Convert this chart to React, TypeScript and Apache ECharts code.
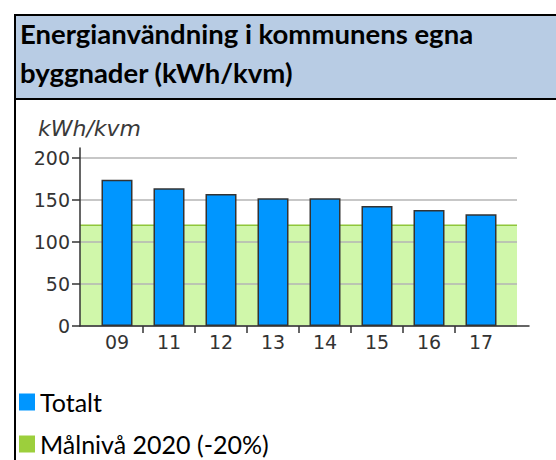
import React, { useEffect, useRef } from "react";
import * as echarts from "echarts";

const categories = ["09", "11", "12", "13", "14", "15", "16", "17"];
const totalt = [174, 164, 157, 152, 152, 143, 138, 133];
const malniva = 120;
const seriesNames = ["Totalt", "Målnivå 2020 (-20%)"];
const titleText = "Energianvändning i kommunens egna\nbyggnader (kWh/kvm)";
const unitText = "kWh/kvm";

export default function App() {
  const ref = useRef<HTMLDivElement>(null);
  useEffect(() => {
    document.body.style.margin = "0";
    const chart = echarts.init(ref.current!, null, { renderer: "svg" });
    const tickFont = { fontFamily: "DejaVu Sans", fontSize: 19, color: "#333" };
    chart.setOption({
      animation: false,
      title: [
        {
          text: titleText,
          left: 20,
          top: 14,
          padding: 0,
          textStyle: { fontFamily: "Lato", fontWeight: "bold", fontSize: 27.5, lineHeight: 39, color: "#000" },
        },
        {
          text: unitText,
          left: 38,
          top: 117,
          padding: 0,
          textStyle: { fontFamily: "DejaVu Sans", fontStyle: "italic", fontWeight: "normal", fontSize: 22, color: "#3a3a3a" },
        },
      ],
      graphic: [
        { type: "rect", z: -10, shape: { x: 15, y: 15, width: 560, height: 84 }, style: { fill: "#b8cce4" } },
        { type: "line", z: -9, shape: { x1: 14, y1: 15, x2: 556, y2: 15 }, style: { stroke: "#000", lineWidth: 2 } },
        { type: "line", z: -9, shape: { x1: 14, y1: 99, x2: 556, y2: 99 }, style: { stroke: "#000", lineWidth: 2 } },
        { type: "line", z: -9, shape: { x1: 15, y1: 14, x2: 15, y2: 460 }, style: { stroke: "#000", lineWidth: 2 } },
      ],
      legend: {
        orient: "vertical",
        left: 19,
        top: 389.5,
        height: 80,
        itemWidth: 16,
        itemHeight: 17,
        itemGap: 17,
        icon: "rect",
        padding: 0,
        textStyle: { fontFamily: "Lato", fontSize: 25, color: "#000", lineHeight: 25 },
        data: [
          { name: seriesNames[0], itemStyle: { color: "#0096ff", borderWidth: 0 } },
          { name: seriesNames[1], itemStyle: { color: "#9ccf3c", borderWidth: 0 } },
        ],
      },
      grid: [
        { left: 80, right: 39, top: 158, bottom: 134 },
        { left: 91, right: 49, top: 158, bottom: 134 },
        { left: 80, right: 27, top: 148, bottom: 134 },
        { left: 143, right: 101, top: 158, bottom: 134 },
      ],
      xAxis: [
        { gridIndex: 0, type: "value", min: 0, max: 1, show: false },
        {
          gridIndex: 1,
          type: "category",
          data: categories,
          axisLine: { show: false },
          axisTick: { show: false },
          axisLabel: { ...tickFont, margin: 6, interval: 0 },
        },
        {
          gridIndex: 2,
          type: "value",
          min: 0,
          max: 1,
          axisLine: { show: true, lineStyle: { color: "#333", width: 1.5 } },
          axisTick: { show: false },
          axisLabel: { show: false },
          splitLine: { show: false },
        },
        {
          gridIndex: 3,
          type: "category",
          boundaryGap: false,
          data: categories.slice(1),
          axisLine: { show: false },
          axisTick: { show: true, interval: 0, length: 7, lineStyle: { color: "#333", width: 1.5 } },
          axisLabel: { show: false },
        },
      ],
      yAxis: [
        {
          gridIndex: 0,
          type: "value",
          min: 0,
          max: 200,
          interval: 50,
          axisLine: { show: false },
          axisTick: { show: true, length: 8, lineStyle: { color: "#333", width: 1.5 } },
          axisLabel: { ...tickFont, margin: 10 },
          splitLine: { show: true, lineStyle: { color: "#b4b4b4", width: 1.5 } },
        },
        { gridIndex: 1, type: "value", min: 0, max: 200, show: false },
        {
          gridIndex: 2,
          type: "value",
          min: 0,
          max: 1,
          axisLine: { show: true, lineStyle: { color: "#333", width: 1.5 } },
          axisTick: { show: false },
          axisLabel: { show: false },
          splitLine: { show: false },
        },
        { gridIndex: 3, type: "value", min: 0, max: 200, show: false },
      ],
      series: [
        {
          name: seriesNames[1],
          type: "line",
          xAxisIndex: 0,
          yAxisIndex: 0,
          z: -1,
          symbol: "none",
          data: [
            [0, malniva],
            [1, malniva],
          ],
          itemStyle: { color: "#9ccf3c" },
          lineStyle: { color: "#8fc63a", width: 1.5 },
          areaStyle: { color: "#d0f7aa", opacity: 1 },
        },
        {
          name: seriesNames[0],
          type: "bar",
          xAxisIndex: 1,
          yAxisIndex: 1,
          barWidth: 31,
          data: totalt,
          itemStyle: { color: "#0096ff", borderColor: "#333", borderWidth: 1.5 },
        },
      ],
    });
    return () => chart.dispose();
  }, []);
  return <div ref={ref} style={{ width: 556, height: 460 }} />;
}
